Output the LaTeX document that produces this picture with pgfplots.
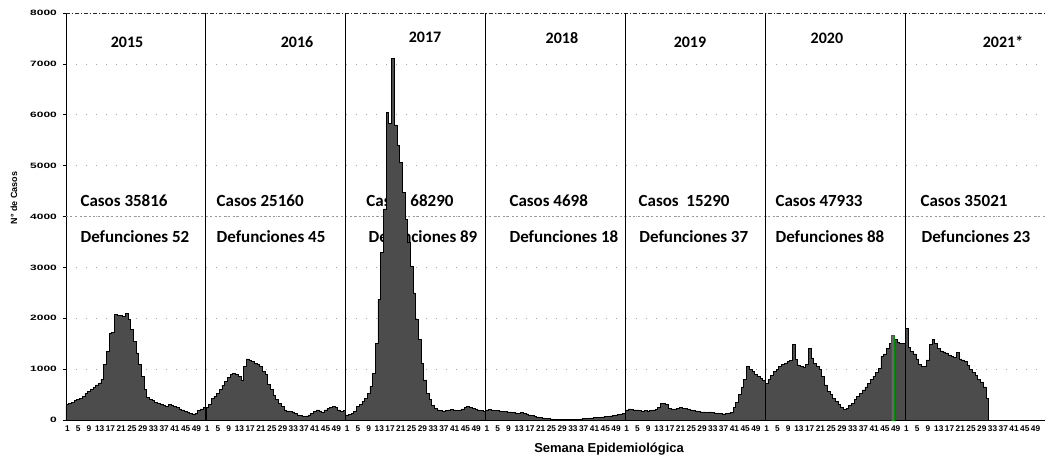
\documentclass[border=0pt]{standalone}
\usepackage{pgfplots}
\pgfplotsset{compat=1.18}
\usepackage{pgfplotstable}
\usepackage{fontspec}
\setmainfont{Liberation Sans}
\newfontfamily\annfont{Carlito}
\newfontfamily\tickfont[FakeStretch=1.55]{Liberation Sans}

% weekly cases per year (last value repeated to close the final week)
\pgfplotstableread[row sep=\\]{y\\300\\330\\350\\380\\400\\430\\470\\520\\560\\600\\640\\690\\730\\800\\1100\\1350\\1700\\1720\\2080\\2050\\2060\\2040\\2090\\1980\\1780\\1550\\1320\\1090\\860\\600\\450\\400\\380\\340\\320\\300\\280\\260\\300\\290\\260\\240\\220\\200\\170\\150\\130\\120\\130\\190\\220\\250\\250\\}\yA
\pgfplotstableread[row sep=\\]{y\\250\\300\\420\\470\\520\\600\\680\\760\\840\\900\\920\\900\\860\\780\\1050\\1200\\1170\\1150\\1120\\1100\\1050\\960\\900\\700\\600\\480\\400\\330\\260\\200\\180\\170\\160\\130\\100\\90\\70\\80\\100\\130\\170\\200\\180\\160\\200\\230\\250\\260\\240\\200\\170\\190\\190\\}\yB
\pgfplotstableread[row sep=\\]{y\\100\\110\\130\\180\\260\\300\\360\\420\\520\\660\\920\\1500\\2370\\3290\\4150\\6050\\5830\\7100\\5800\\5400\\5070\\4480\\3950\\3490\\3030\\2500\\1980\\1580\\1120\\790\\530\\400\\280\\230\\200\\190\\180\\190\\200\\210\\200\\190\\200\\220\\240\\260\\250\\230\\220\\200\\190\\170\\170\\}\yC
\pgfplotstableread[row sep=\\]{y\\200\\210\\200\\190\\190\\180\\170\\165\\160\\160\\150\\140\\130\\150\\130\\120\\100\\90\\70\\60\\50\\40\\30\\25\\20\\15\\10\\10\\8\\5\\5\\5\\8\\10\\15\\20\\25\\30\\35\\40\\45\\50\\55\\60\\65\\70\\80\\90\\100\\110\\120\\130\\130\\}\yD
\pgfplotstableread[row sep=\\]{y\\200\\220\\210\\200\\200\\190\\180\\185\\180\\190\\200\\210\\240\\330\\320\\310\\230\\220\\220\\230\\240\\230\\230\\220\\200\\190\\180\\170\\160\\160\\150\\160\\150\\140\\130\\130\\120\\130\\140\\150\\250\\350\\500\\650\\800\\1050\\1000\\950\\900\\850\\820\\780\\780\\}\yE
\pgfplotstableread[row sep=\\]{y\\720\\800\\880\\950\\1000\\1050\\1100\\1120\\1150\\1170\\1480\\1185\\1085\\1050\\1040\\1100\\1415\\1220\\1120\\1050\\990\\860\\690\\560\\500\\430\\360\\300\\250\\210\\230\\280\\330\\400\\460\\530\\590\\650\\720\\800\\860\\940\\1020\\1250\\1300\\1415\\1500\\1660\\1580\\1520\\1510\\1500\\1500\\}\yF
\pgfplotstableread[row sep=\\]{y\\1800\\1420\\1350\\1300\\1200\\1100\\1050\\1060\\1180\\1480\\1580\\1500\\1400\\1360\\1340\\1320\\1280\\1250\\1230\\1330\\1200\\1180\\1150\\1080\\1000\\930\\870\\800\\750\\650\\420\\420\\}\yG

\begin{document}
\begin{tikzpicture}
\begin{axis}[
  scale only axis, width=979pt, height=407pt,
  xmin=0, xmax=364, ymin=0, ymax=8000,
  axis x line*=bottom, axis y line*=left,
  axis line style={black, line width=0.8pt},
  clip=false,
  ytick={0,1000,...,8000},
  xtick={0.5,4.5,...,360.5},
  xticklabels={1,5,9,13,17,21,25,29,33,37,41,45,49,1,5,9,13,17,21,25,29,33,37,41,45,49,1,5,9,13,17,21,25,29,33,37,41,45,49,1,5,9,13,17,21,25,29,33,37,41,45,49,1,5,9,13,17,21,25,29,33,37,41,45,49,1,5,9,13,17,21,25,29,33,37,41,45,49,1,5,9,13,17,21,25,29,33,37,41,45,49},
  tick align=outside,
  xtick style={draw=none},
  ytick style={black, line width=0.6pt},
  major tick length=3pt,
  /pgf/number format/1000 sep={},
  /pgf/number format/assume math mode=true,
  scaled y ticks=false,
  x tick label style={font=\fontsize{8.3}{9}\selectfont\bfseries, inner sep=1pt, yshift=-2pt},
  y tick label style={font=\tickfont\fontsize{7.7}{8}\selectfont\bfseries, inner sep=2pt, xshift=-4pt},
  ymajorgrids,
  grid style={gray!70, line width=0.6pt, dash pattern=on 1pt off 9pt},
  xlabel={Semana Epidemiológica},
  ylabel={N° de Casos},
  xlabel style={font=\fontsize{13}{14}\selectfont\bfseries, at={(axis description cs:0.5547,-0.0713)}, anchor=center},
  ylabel style={font=\fontsize{9}{10}\selectfont\bfseries, at={(axis description cs:-0.0531,0.5455)}, anchor=center},
]
% annotations (behind the bars)
\begin{scope}[font=\annfont\fontsize{17}{18}\selectfont\bfseries]
\node[anchor=west] at (axis cs:4.1,4305) {Casos 35816};
\node[anchor=west] at (axis cs:54.7,4305) {Casos 25160};
\node[anchor=west] at (axis cs:110.4,4305) {Casos 68290};
\node[anchor=west] at (axis cs:163.6,4305) {Casos 4698};
\node[anchor=west] at (axis cs:211.6,4305) {Casos\ \ 15290};
\node[anchor=west] at (axis cs:262.5,4305) {Casos 47933};
\node[anchor=west] at (axis cs:316.4,4305) {Casos 35021};
\node[anchor=west] at (axis cs:4.1,3598) {Defunciones 52};
\node[anchor=west] at (axis cs:54.7,3598) {Defunciones 45};
\node[anchor=west] at (axis cs:111.2,3598) {Defunciones 89};
\node[anchor=west] at (axis cs:163.6,3598) {Defunciones 18};
\node[anchor=west] at (axis cs:211.9,3598) {Defunciones 37};
\node[anchor=west] at (axis cs:262.5,3598) {Defunciones 88};
\node[anchor=west] at (axis cs:316.8,3598) {Defunciones 23};
\end{scope}
\begin{scope}[font=\annfont\fontsize{16}{17}\selectfont\bfseries]
\node at (axis cs:22.7,7430) {2015};
\node at (axis cs:85.9,7430) {2016};
\node at (axis cs:133.5,7530) {2017};
\node at (axis cs:184.4,7510) {2018};
\node at (axis cs:232.0,7430) {2019};
\node at (axis cs:282.9,7510) {2020};
\node at (axis cs:348.4,7430) {2021*};
\end{scope}
% extra reference lines
\draw[gray!80, line width=0.7pt, dash pattern=on 2pt off 2.5pt] (axis cs:0,4000) -- (axis cs:364,4000);
\draw[black!85, line width=0.8pt, dash pattern=on 4pt off 2pt on 1pt off 2pt] (axis cs:0,8000) -- (axis cs:364,8000);
% weekly cases
\addplot[const plot, fill=black!70, draw=black, line width=0.6pt] table[x expr=\coordindex, y=y] {\yA} \closedcycle;
\addplot[const plot, fill=black!70, draw=black, line width=0.6pt] table[x expr=\coordindex+52, y=y] {\yB} \closedcycle;
\addplot[const plot, fill=black!70, draw=black, line width=0.6pt] table[x expr=\coordindex+104, y=y] {\yC} \closedcycle;
\addplot[const plot, fill=black!70, draw=black, line width=0.6pt] table[x expr=\coordindex+156, y=y] {\yD} \closedcycle;
\addplot[const plot, fill=black!70, draw=black, line width=0.6pt] table[x expr=\coordindex+208, y=y] {\yE} \closedcycle;
\addplot[const plot, fill=black!70, draw=black, line width=0.6pt] table[x expr=\coordindex+260, y=y] {\yF} \closedcycle;
\addplot[const plot, fill=black!70, draw=black, line width=0.6pt] table[x expr=\coordindex+312, y=y] {\yG} \closedcycle;
\addplot[const plot, fill=black!60, draw=green!55!black, line width=0.8pt] coordinates {(307,1660) (308,1660)} \closedcycle;
% year separators
\draw[black, line width=0.8pt] (axis cs:52,0) -- (axis cs:52,8000);
\draw[black, line width=0.8pt] (axis cs:104,0) -- (axis cs:104,8000);
\draw[black, line width=0.8pt] (axis cs:156,0) -- (axis cs:156,8000);
\draw[black, line width=0.8pt] (axis cs:208,0) -- (axis cs:208,8000);
\draw[black, line width=0.8pt] (axis cs:260,0) -- (axis cs:260,8000);
\draw[black, line width=0.8pt] (axis cs:312,0) -- (axis cs:312,8000);
\end{axis}
\pgfresetboundingbox
\path ([xshift=-66pt,yshift=-37pt]current axis.south west) rectangle ([xshift=3pt,yshift=13pt]current axis.north east);
\end{tikzpicture}
\end{document}
